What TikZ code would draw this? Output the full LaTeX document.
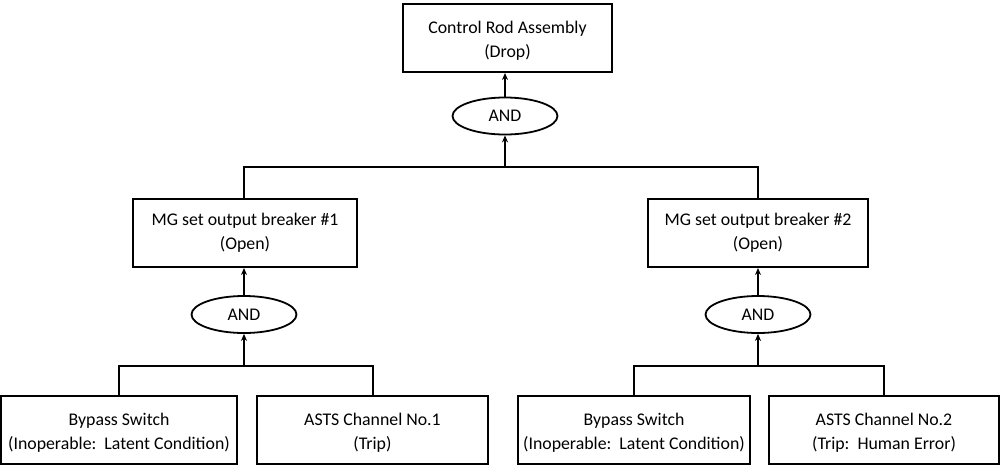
\documentclass[tikz,border=0pt]{standalone}
\usepackage{fontspec}
\setmainfont{Carlito}
\usetikzlibrary{shapes.geometric,arrows.meta}

% strut that lowers the first text line slightly inside the boxes
\newcommand{\firstline}{\rule{0pt}{18pt}}

\begin{document}
\begin{tikzpicture}[x=1pt,y=-1pt,
  every node/.style={font=\fontsize{17.8}{24}\selectfont, align=center, inner sep=0pt},
  event/.style={draw, line width=2pt, rectangle, minimum height=68pt},
  gate/.style={draw, line width=1.8pt, ellipse, minimum width=105pt, minimum height=37pt},
  link/.style={line width=2pt},
  feed/.style={line width=2pt, -{Stealth[length=7pt,width=6pt]}}
]
\useasboundingbox (0,0) rectangle (1002,467);

% top event and its gate
\node[event, minimum width=209pt] (top) at (507.5,38) {\firstline Control Rod Assembly\\(Drop)};
\node[gate] (andTop) at (505,116) {AND};

% intermediate events
\node[event, minimum width=224pt] (mg1) at (245,233) {MG set output breaker \#1\\(Open)};
\node[event, minimum width=220pt] (mg2) at (758,233) {MG set output breaker \#2\\(Open)};
\node[gate] (and1) at (244,314.5) {AND};
\node[gate] (and2) at (758,314.5) {AND};

% basic events
\node[event, minimum width=236pt] (b1) at (119,430) {\firstline Bypass Switch\\(Inoperable:\ \ Latent Condition)};
\node[event, minimum width=231pt] (b2) at (372.5,430) {\firstline ASTS Channel No.1\\(Trip)};
\node[event, minimum width=232pt] (b3) at (634,430) {\firstline Bypass Switch\\(Inoperable:\ \ Latent Condition)};
\node[event, minimum width=230pt] (b4) at (884,430) {\firstline ASTS Channel No.2\\(Trip:\ \ Human Error)};

% junction points of the branch lines
\coordinate (jTop) at (505,167);
\coordinate (j1) at (244,366);
\coordinate (j2) at (758,366);

% top level
\draw[feed] (andTop.north) -- (top.south -| andTop.north);
\draw[link] (mg1.north -| and1.south) |- (jTop) -| (mg2.north);
\draw[feed] (jTop) -- (andTop.south);

% left branch
\draw[feed] (and1.north) -- (mg1.south -| and1.north);
\draw[link] (b1.north) |- (j1) -| (b2.north);
\draw[feed] (j1) -- (and1.south);

% right branch
\draw[feed] (and2.north) -- (mg2.south);
\draw[link] (b3.north) |- (j2) -| (b4.north);
\draw[feed] (j2) -- (and2.south);
\end{tikzpicture}
\end{document}
